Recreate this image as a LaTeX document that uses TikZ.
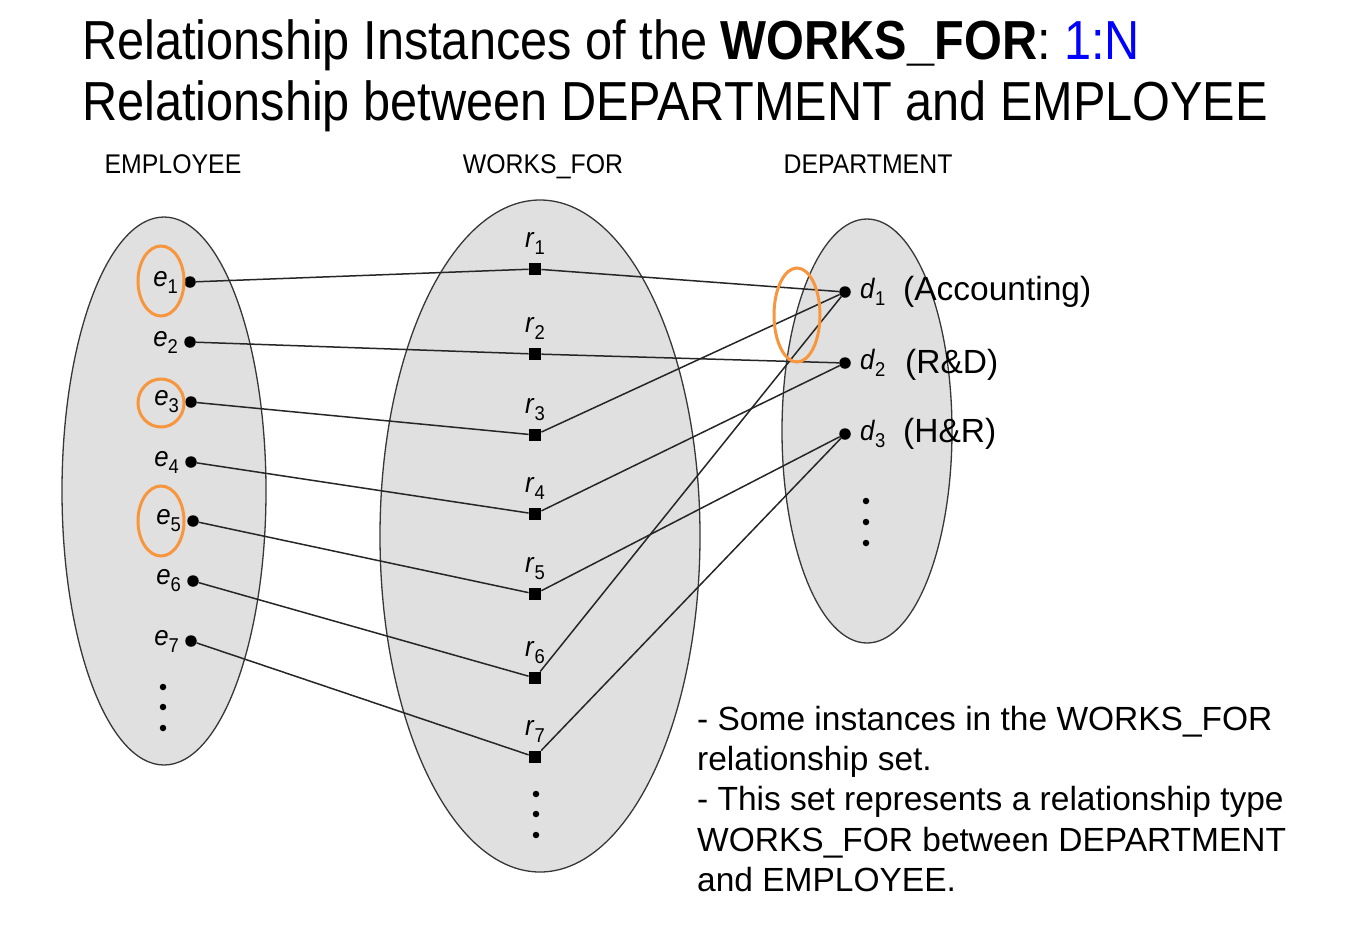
\documentclass[tikz,border=0pt]{standalone}
\usepackage{fontspec}
\setmainfont{Liberation Sans}
\newfontfamily\narrowsf[FakeStretch=0.92]{Liberation Sans}
\newfontfamily\titlesf[FakeStretch=0.885]{Liberation Sans}
\usepackage{tikz}
\usetikzlibrary{positioning}

\definecolor{setgray}{RGB}{224,224,224}
\definecolor{setline}{RGB}{55,55,55}
\definecolor{hilite}{RGB}{247,150,60}
\definecolor{ratioblue}{RGB}{0,0,255}

% instance label with a small upright index
\newcommand{\elm}[2]{\textit{#1}\raisebox{-7pt}{\fontsize{20}{20}\selectfont #2}}

\tikzset{
  entset/.style={draw=setline, fill=setgray, line width=1.3pt},
  edot/.style={circle, fill=black, inner sep=0pt, minimum size=11.5pt},
  rbox/.style={rectangle, fill=black, inner sep=0pt, minimum size=12.5pt},
  more/.style={circle, fill=black, inner sep=0pt, minimum size=6.5pt},
  tag/.style={inner sep=0pt, font=\narrowsf\fontsize{28}{28}\selectfont},
  head/.style={inner sep=0pt, anchor=base, font=\narrowsf\fontsize{27}{27}\selectfont},
  deptname/.style={inner sep=0pt, anchor=base west, font=\fontsize{33.5}{33.5}\selectfont},
  link/.style={draw=black!85, line width=1.5pt},
  ring/.style={draw=hilite, line width=3pt},
}

\begin{document}
\begin{tikzpicture}[x=1pt,y=-1pt]
  \useasboundingbox (0,0) rectangle (1352,930);

  % title
  \node[anchor=north west, align=left, inner sep=0pt,
        font=\titlesf\fontsize{55}{61}\selectfont] (title) at (82,19)
    {Relationship Instances of the \textbf{WORKS\_FOR}: \textcolor{ratioblue}{1:N}\\
     Relationship between DEPARTMENT and EMPLOYEE};

  % set headings
  \node[head] (emphead) at (173,173) {EMPLOYEE};
  \node[head] (wfhead) at (543,173) {WORKS\_FOR};
  \node[head] (dephead) at (868,173) {DEPARTMENT};

  % the three sets
  \draw[entset] (164,491) ellipse [x radius=102pt, y radius=274pt];
  \draw[entset] (540,536) ellipse [x radius=160pt, y radius=336pt];
  \draw[entset] (867,431) ellipse [x radius=85pt, y radius=212pt];

  % employees
  \node[edot] (e1) at (190,282) {};
  \node[edot] (e2) at (190,342) {};
  \node[edot] (e3) at (191,402) {};
  \node[edot] (e4) at (191,462) {};
  \node[edot] (e5) at (193,521) {};
  \node[edot] (e6) at (193,581) {};
  \node[edot] (e7) at (191,641) {};
  \node[tag, left=6pt of e1] (e1tag) {\elm{e}{1}};
  \node[tag, left=6pt of e2] (e2tag) {\elm{e}{2}};
  \node[tag, left=6pt of e3] (e3tag) {\elm{e}{3}};
  \node[tag, left=6pt of e4] (e4tag) {\elm{e}{4}};
  \node[tag, left=6pt of e5] (e5tag) {\elm{e}{5}};
  \node[tag, left=6pt of e6] (e6tag) {\elm{e}{6}};
  \node[tag, left=6pt of e7] (e7tag) {\elm{e}{7}};
  \node[more] at (163,687) {};
  \node[more] at (163,707) {};
  \node[more] at (163,728) {};

  % relationship instances
  \node[rbox] (r1) at (535,269) {};
  \node[rbox] (r2) at (535,354) {};
  \node[rbox] (r3) at (535,435) {};
  \node[rbox] (r4) at (535,514) {};
  \node[rbox] (r5) at (535,594) {};
  \node[rbox] (r6) at (535,678) {};
  \node[rbox] (r7) at (535,757) {};
  \node[tag, above=8pt of r1] (r1tag) {\elm{r}{1}};
  \node[tag, above=8pt of r2] (r2tag) {\elm{r}{2}};
  \node[tag, above=8pt of r3] (r3tag) {\elm{r}{3}};
  \node[tag, above=8pt of r4] (r4tag) {\elm{r}{4}};
  \node[tag, above=8pt of r5] (r5tag) {\elm{r}{5}};
  \node[tag, above=8pt of r6] (r6tag) {\elm{r}{6}};
  \node[tag, above=8pt of r7] (r7tag) {\elm{r}{7}};
  \node[more] at (536,794) {};
  \node[more] at (536,814) {};
  \node[more] at (536,835) {};

  % departments
  \node[edot] (d1) at (845,292) {};
  \node[edot] (d2) at (845,363) {};
  \node[edot] (d3) at (845,434) {};
  \node[tag, right=9pt of d1] (d1tag) {\elm{d}{1}};
  \node[tag, right=9pt of d2] (d2tag) {\elm{d}{2}};
  \node[tag, right=9pt of d3] (d3tag) {\elm{d}{3}};
  \node[more] at (866,501) {};
  \node[more] at (866,522) {};
  \node[more] at (866,543) {};
  \node[deptname] (acc) at (903,300) {(Accounting)};
  \node[deptname] (rnd) at (905,373) {(R\&D)};
  \node[deptname] (hnr) at (903,442) {(H\&R)};

  % instances of WORKS_FOR
  \draw[link] (e1) -- (r1) -- (d1);
  \draw[link] (e2) -- (r2) -- (d2);
  \draw[link] (e3) -- (r3) -- (d1);
  \draw[link] (e4) -- (r4) -- (d2);
  \draw[link] (e5) -- (r5) -- (d3);
  \draw[link] (e6) -- (r6) -- (d1);
  \draw[link] (e7) -- (r7) -- (d3);

  % highlights
  \draw[ring] (161,281) ellipse [x radius=23pt, y radius=35pt];
  \draw[ring] (161,403) ellipse [x radius=23pt, y radius=24pt];
  \draw[ring] (161,521) ellipse [x radius=23pt, y radius=35pt];
  \draw[ring] (797,315) ellipse [x radius=23pt, y radius=47pt];

  % note
  \node[anchor=north west, align=left, inner sep=0pt,
        font=\fontsize{33.5}{40.2}\selectfont] (note) at (697,706)
    {- Some instances in the WORKS\_FOR\\
     relationship set.\\
     - This set represents a relationship type\\
     WORKS\_FOR between DEPARTMENT\\
     and EMPLOYEE.};
\end{tikzpicture}
\end{document}
